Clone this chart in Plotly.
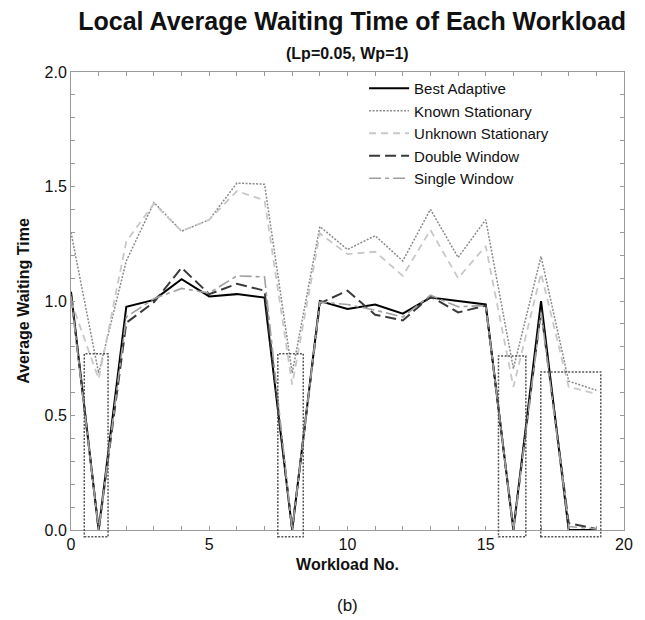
import plotly.graph_objects as go

# ---- data ----
workload = list(range(20))
best_adaptive = [1.04, 0.0, 0.975, 1.005, 1.095, 1.02, 1.03, 1.015, 0.0, 1.0,
                 0.965, 0.985, 0.945, 1.015, 1.0, 0.985, 0.0, 1.0, 0.0, 0.0]
known_stationary = [1.30, 0.685, 1.175, 1.43, 1.305, 1.355, 1.515, 1.51, 0.685, 1.325,
                    1.225, 1.285, 1.175, 1.40, 1.19, 1.355, 0.705, 1.195, 0.65, 0.61]
unknown_stationary = [1.0, 0.66, 1.26, 1.425, 1.305, 1.355, 1.48, 1.44, 0.635, 1.295,
                      1.205, 1.215, 1.11, 1.31, 1.10, 1.24, 0.625, 1.12, 0.625, 0.595]
double_window = [1.03, 0.0, 0.905, 0.995, 1.145, 1.03, 1.075, 1.045, 0.0, 0.99,
                 1.045, 0.94, 0.915, 1.02, 0.95, 0.98, 0.0, 0.96, 0.03, 0.005]
single_window = [1.02, 0.0, 0.93, 1.01, 1.055, 1.035, 1.11, 1.105, 0.0, 0.995,
                 0.985, 0.96, 0.93, 1.025, 0.975, 0.98, 0.0, 0.95, 0.015, 0.005]

# highlight boxes (x0, x1, y_top); bottom shared
box_x0 = [0.48, 7.48, 15.46, 16.99]
box_x1 = [1.34, 8.40, 16.45, 19.16]
box_top = [0.77, 0.77, 0.76, 0.69]
box_bottom = -0.03

x_tickvals = list(range(0, 21))
x_ticktext = [str(v) if v % 5 == 0 else "" for v in x_tickvals]
y_tickvals = [round(i * 0.1, 1) for i in range(21)]
y_ticktext = [f"{v:.1f}" if abs(v * 2 - round(v * 2)) < 1e-9 else "" for v in y_tickvals]

Y_RANGE = [0, 2]
X_RANGE = [0, 20]

FONT = "Liberation Sans, Arial, Helvetica, sans-serif"

fig = go.Figure()

series = [
    ("Best Adaptive", best_adaptive, "#000000", "solid", 2),
    ("Known Stationary", known_stationary, "#8a8a8a", "2px,1.5px", 1.5),
    ("Unknown Stationary", unknown_stationary, "#c8c8c8", "7px,5px", 1.8),
    ("Double Window", double_window, "#3a3a3a", "11px,5px", 2),
    ("Single Window", single_window, "#a0a0a0", "12px,4px,4px,4px", 1.6),
]
for name, ys, color, dash, w in series:
    fig.add_trace(go.Scatter(
        x=workload, y=ys, mode="lines", name=name,
        line=dict(color=color, dash=dash, width=w),
    ))


def to_paper_y(v):
    return (v - Y_RANGE[0]) / (Y_RANGE[1] - Y_RANGE[0])


for x0, x1, top in zip(box_x0, box_x1, box_top):
    fig.add_shape(
        type="rect", xref="x", yref="paper",
        x0=x0, x1=x1, y0=to_paper_y(box_bottom), y1=to_paper_y(top),
        line=dict(color="#555555", width=1.5, dash="2px,1.5px"),
        fillcolor="rgba(0,0,0,0)", layer="above",
    )

axis_common = dict(
    showgrid=False, zeroline=False, showline=True, linecolor="#9a9a9a",
    linewidth=1, mirror="allticks", ticks="inside", ticklen=4,
    tickcolor="#9a9a9a", tickfont=dict(family=FONT, size=16, color="#111"),
)

fig.update_xaxes(
    range=X_RANGE, tickmode="array", tickvals=x_tickvals, ticktext=x_ticktext,
    title=dict(text="<b>Workload No.</b>", font=dict(family=FONT, size=16, color="#111"), standoff=6),
    **axis_common,
)
fig.update_yaxes(
    range=Y_RANGE, tickmode="array", tickvals=y_tickvals, ticktext=y_ticktext,
    title=dict(text="<b>Average Waiting Time</b>", font=dict(family=FONT, size=16, color="#111"), standoff=10),
    **axis_common,
)

fig.update_layout(
    width=645, height=620,
    margin=dict(l=71, r=16, t=72, b=90),
    paper_bgcolor="white", plot_bgcolor="white",
    font=dict(family=FONT, color="#111"),
    title=dict(text="<b>Local Average Waiting Time of Each Workload</b>",
               font=dict(family=FONT, size=25, color="#111"),
               x=0.546, xanchor="center", y=0.965, yanchor="middle"),
    legend=dict(x=0.53, y=1.0, xanchor="left", yanchor="top",
                bgcolor="rgba(0,0,0,0)", borderwidth=0,
                font=dict(family=FONT, size=15, color="#111"),
                itemwidth=40, tracegroupgap=0),
    showlegend=True,
    annotations=[
        dict(text="<b>(Lp=0.05, Wp=1)</b>", xref="paper", yref="paper",
             x=0.5, y=1.0, xanchor="center", yanchor="bottom", yshift=8,
             showarrow=False, font=dict(family=FONT, size=16, color="#111")),
        dict(text="(b)", xref="paper", yref="paper", x=0.5, y=0,
             xanchor="center", yanchor="middle", yshift=-75,
             showarrow=False, font=dict(family=FONT, size=17, color="#111")),
    ],
)

fig.write_html("out.html")
